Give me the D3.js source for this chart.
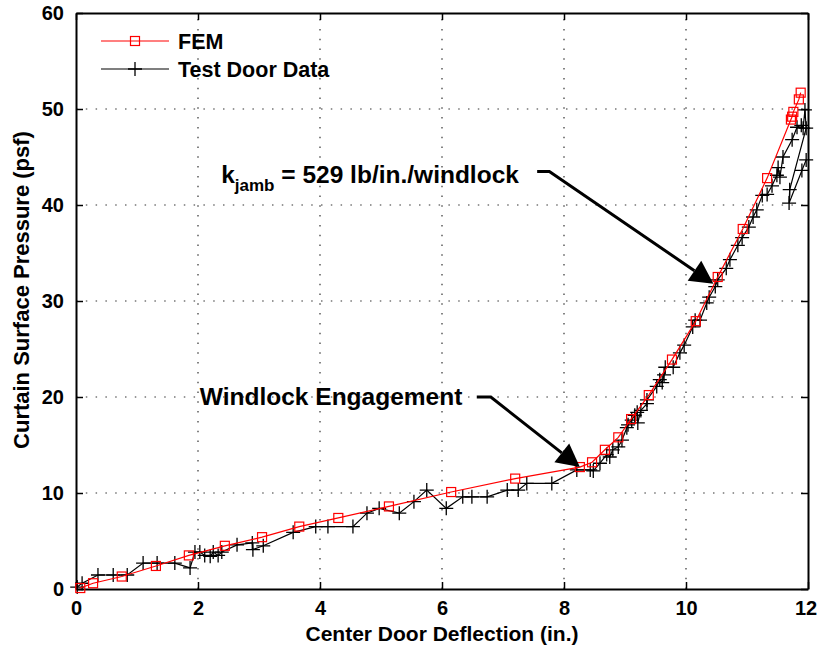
<!DOCTYPE html>
<html>
<head>
<meta charset="utf-8">
<script src="https://cdn.jsdelivr.net/npm/d3@7"></script>
<style>
  body { margin: 0; background: #fff; }
  svg text { font-family: "Liberation Sans", Arial, Helvetica, sans-serif; font-weight: bold; }
</style>
</head>
<body>
<script>
// FEM model curve (deflection in., pressure psf)
var femX = [0.07, 0.28, 0.75, 1.31, 1.85, 2.44, 3.05, 3.66, 4.3, 5.13, 6.15, 7.2, 8.26, 8.46, 8.67, 8.89,
            9.1, 9.39, 9.77, 10.16, 10.52, 10.93, 11.33, 11.72, 11.74, 11.76, 11.85, 11.88];
var femY = [0.1, 0.6, 1.3, 2.4, 3.5, 4.5, 5.4, 6.5, 7.4, 8.6, 10.1, 11.5, 12.7, 13.2, 14.5, 15.8,
            17.7, 20.2, 23.9, 27.9, 32.5, 37.5, 42.8, 48.9, 49.2, 49.7, 51.0, 51.7];

// test door measurements
var testX = [0.02, 0.10, 0.36, 0.61, 0.84, 1.10, 1.33, 1.62, 1.87, 1.95, 2.03, 2.11, 2.20, 2.25, 2.33, 2.39,
             2.64, 2.89, 2.90, 3.07, 3.56, 3.93, 4.13, 4.54, 4.77, 4.97, 5.30, 5.54, 5.75, 6.07, 6.34, 6.49,
             6.74, 7.07, 7.25, 7.39, 7.80, 8.21, 8.43, 8.48, 8.59, 8.70, 8.75, 8.80, 8.89, 8.95, 9.03, 9.05,
             9.11, 9.16, 9.20, 9.21, 9.26, 9.36, 9.36, 9.52, 9.57, 9.61, 9.64, 9.66, 9.79, 9.90, 9.97, 10.11,
             10.15, 10.23, 10.34, 10.38, 10.48, 10.52, 10.66, 10.72, 10.85, 10.92, 11.03, 11.10, 11.16, 11.25,
             11.33, 11.41, 11.49, 11.51, 11.54, 11.59, 11.74, 11.82, 11.89, 11.92, 11.95, 11.97,
             11.70, 11.69, 11.90, 11.97];
var testY = [0.2, 0.6, 1.46, 1.46, 1.46, 2.7, 2.7, 2.7, 2.2, 3.85, 3.85, 3.5, 3.4, 3.85, 3.5, 3.85,
             4.6, 4.8, 4.1, 4.5, 5.9, 6.5, 6.5, 6.5, 7.9, 8.4, 7.9, 9.1, 10.3, 8.4, 9.6, 9.6,
             9.6, 10.3, 10.3, 11.0, 11.0, 12.4, 12.4, 12.3, 13.1, 14.0, 13.75, 14.5, 14.8, 15.5, 16.8, 17.1,
             17.6, 18.1, 18.4, 17.3, 18.6, 19.3, 19.7, 21.1, 21.8, 21.5, 22.3, 23.1, 23.1, 24.6, 25.4, 27.3,
             28.0, 28.0, 29.8, 30.4, 31.5, 32.2, 33.4, 34.3, 35.8, 36.6, 37.7, 38.75, 39.5, 41.0,
             41.1, 42.0, 43.1, 43.9, 42.9, 45.0, 46.8, 48.1, 48.3, 48.0, 49.9, 48.0,
             41.6, 40.2, 43.6, 44.7];

var xTicks = [0, 2, 4, 6, 8, 10, 12];
var yTicks = [0, 10, 20, 30, 40, 50, 60];

var width = 817, height = 651;
var margin = {left: 76, right: 9, top: 13, bottom: 62};

var svg = d3.select("body").append("svg")
    .attr("width", width)
    .attr("height", height);

var x = d3.scaleLinear().domain([0, 12]).range([margin.left, width - margin.right]);
var y = d3.scaleLinear().domain([0, 60]).range([height - margin.bottom, margin.top]);

// dotted grid
svg.append("g").selectAll("line.gx")
    .data(xTicks.slice(1, -1))
    .enter().append("line")
        .attr("x1", d => x(d)).attr("x2", d => x(d))
        .attr("y1", y(0)).attr("y2", y(60))
        .attr("stroke", "#333").attr("stroke-width", 1.2)
        .attr("stroke-dasharray", "1.5,8.3");
svg.append("g").selectAll("line.gy")
    .data(yTicks.slice(1, -1))
    .enter().append("line")
        .attr("y1", d => y(d)).attr("y2", d => y(d))
        .attr("x1", x(0)).attr("x2", x(12))
        .attr("stroke", "#333").attr("stroke-width", 1.2)
        .attr("stroke-dasharray", "1.5,8.3");

// axes (ticks pointing inward, on all four sides)
var axB = svg.append("g").attr("transform", "translate(0," + y(0) + ")")
    .call(d3.axisBottom(x).tickValues(xTicks).tickSizeInner(-7).tickSizeOuter(0).tickPadding(12));
var axT = svg.append("g").attr("transform", "translate(0," + y(60) + ")")
    .call(d3.axisTop(x).tickValues(xTicks).tickSizeInner(-7).tickSizeOuter(0).tickFormat(""));
var axL = svg.append("g").attr("transform", "translate(" + x(0) + ",0)")
    .call(d3.axisLeft(y).tickValues(yTicks).tickSizeInner(-7).tickSizeOuter(0).tickPadding(12));
var axR = svg.append("g").attr("transform", "translate(" + x(12) + ",0)")
    .call(d3.axisRight(y).tickValues(yTicks).tickSizeInner(-7).tickSizeOuter(0).tickFormat(""));

[axB, axT, axL, axR].forEach(function(a) {
    a.select(".domain").attr("stroke", "#000").attr("stroke-width", 2);
    a.selectAll(".tick line").attr("stroke", "#000").attr("stroke-width", 1.5);
    a.selectAll("text").attr("fill", "#000").style("font-size", "20px");
});
// keep the last x label inside the page
axB.selectAll(".tick text").filter(d => d === 12).attr("dx", -2.5);

// axis titles
svg.append("text")
    .attr("x", (x(0) + x(12)) / 2).attr("y", 641)
    .attr("text-anchor", "middle").style("font-size", "21px")
    .text("Center Door Deflection (in.)");
svg.append("text")
    .attr("transform", "translate(29,290) rotate(-90)")
    .attr("text-anchor", "middle").style("font-size", "22px")
    .text("Curtain Surface Pressure (psf)");

// series
var line = d3.line().x(d => x(d[0])).y(d => y(d[1]));
var fem = d3.zip(femX, femY);
var test = d3.zip(testX, testY);

svg.append("path").datum(test)
    .attr("d", line).attr("fill", "none")
    .attr("stroke", "#000").attr("stroke-width", 1.2);
svg.append("g").selectAll("path")
    .data(test)
    .enter().append("path")
        .attr("d", d => "M" + (x(d[0]) - 7) + "," + y(d[1]) + "h14M" + x(d[0]) + "," + (y(d[1]) - 7) + "v14")
        .attr("stroke", "#000").attr("stroke-width", 1.3);

svg.append("path").datum(fem)
    .attr("d", line).attr("fill", "none")
    .attr("stroke", "#ff0000").attr("stroke-width", 1.2);
svg.append("g").selectAll("rect")
    .data(fem)
    .enter().append("rect")
        .attr("x", d => x(d[0]) - 4.5).attr("y", d => y(d[1]) - 4.5)
        .attr("width", 9).attr("height", 9)
        .attr("fill", "none").attr("stroke", "#ff0000").attr("stroke-width", 1.2);

// legend
var leg = svg.append("g");
leg.append("line").attr("x1", 101).attr("x2", 169).attr("y1", 41).attr("y2", 41)
    .attr("stroke", "#ff0000").attr("stroke-width", 1.2);
leg.append("rect").attr("x", 130.5).attr("y", 36.5).attr("width", 9).attr("height", 9)
    .attr("fill", "none").attr("stroke", "#ff0000").attr("stroke-width", 1.2);
leg.append("text").attr("x", 178).attr("y", 49).style("font-size", "21.5px").text("FEM");
leg.append("line").attr("x1", 101).attr("x2", 169).attr("y1", 69).attr("y2", 69)
    .attr("stroke", "#000").attr("stroke-width", 1.2);
leg.append("path").attr("d", "M128,69h14M135,62v14").attr("stroke", "#000").attr("stroke-width", 1.3);
leg.append("text").attr("x", 178).attr("y", 77).style("font-size", "21.5px").text("Test Door Data");

// annotations
function arrow(x0, y0, x1, y1, xt, yt) {
    var ang = Math.atan2(y(yt) - y(y1), x(xt) - x(x1));
    var L = 23, W = 12;
    var tx = x(xt), ty = y(yt);
    var bx = tx - L * Math.cos(ang), by = ty - L * Math.sin(ang);
    svg.append("path")
        .attr("d", "M" + x(x0) + "," + y(y0) + "L" + x(x1) + "," + y(y1) + "L" + bx + "," + by)
        .attr("fill", "none").attr("stroke", "#000").attr("stroke-width", 3);
    svg.append("path")
        .attr("d", "M" + tx + "," + ty +
            "L" + (bx + W * Math.sin(ang)) + "," + (by - W * Math.cos(ang)) +
            "L" + (bx - W * Math.sin(ang)) + "," + (by + W * Math.cos(ang)) + "Z")
        .attr("fill", "#000");
}

var k = svg.append("text").attr("x", x(2.38)).attr("y", y(42.3)).style("font-size", "24.5px");
k.append("tspan").text("k");
k.append("tspan").attr("dy", 8).style("font-size", "17px").text("jamb");
k.append("tspan").attr("dy", -8).text(" = 529 lb/in./windlock");
arrow(7.56, 43.5, 7.76, 43.5, 10.45, 31.8);

svg.append("text").attr("x", x(2.03)).attr("y", y(19.2)).style("font-size", "24.5px")
    .text("Windlock Engagement");
arrow(6.57, 20.0, 6.8, 20.0, 8.26, 12.7);
</script>
</body>
</html>
